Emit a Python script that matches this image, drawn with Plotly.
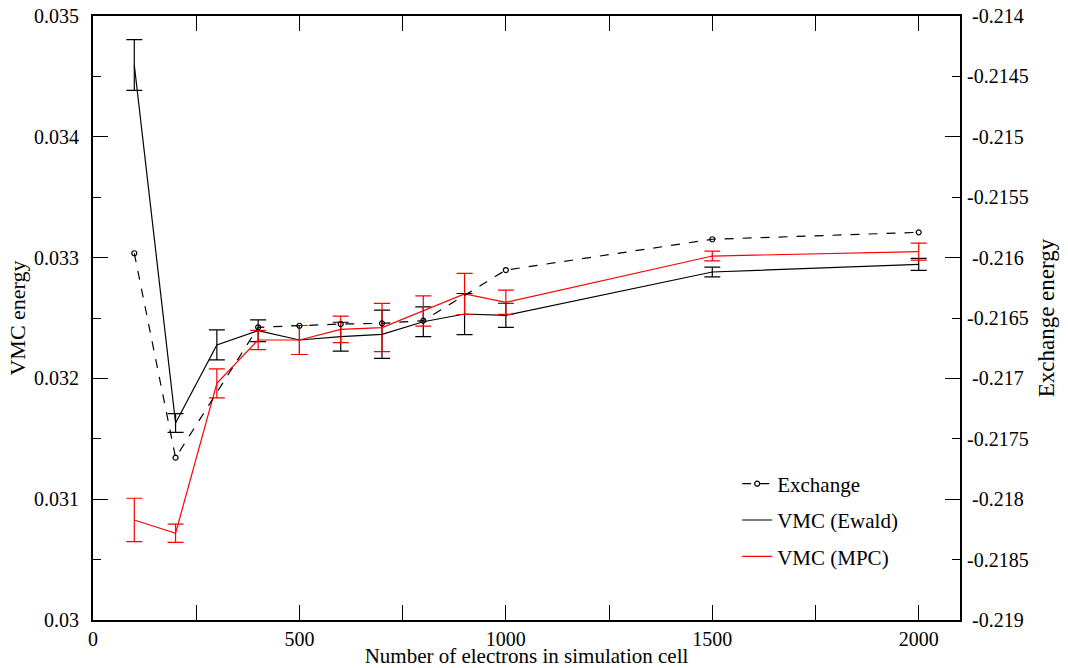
import plotly.graph_objects as go

# ---- data ----
n_vmc = [100, 200, 300, 400, 500, 600, 700, 800, 900, 1000, 1500, 2000]
ewald = [0.034594, 0.031631, 0.032277, 0.032395, 0.032318, 0.032345, 0.032365,
         0.032469, 0.032533, 0.032522, 0.032881, 0.032944]
ewald_err = [0.00021, 0.000078, 0.000124, 0.00009, 0.00012, 0.00012, 0.0002,
             0.000123, 0.00017, 0.0001, 0.00004, 0.00005]
mpc = [0.030828, 0.030718, 0.031959, 0.032318, 0.032318, 0.032406, 0.032421,
       0.032558, 0.032699, 0.032630, 0.033013, 0.033049]
mpc_err = [0.00018, 0.000075, 0.00012, 0.00008, 0.00012, 0.00011, 0.0002,
           0.000125, 0.00017, 0.0001, 0.00004, 0.00007]

n_exch = [100, 200, 400, 500, 600, 700, 800, 1000, 1500, 2000]
exchange = [-0.215964, -0.217656, -0.216577, -0.216564, -0.216550, -0.216544,
            -0.216522, -0.216103, -0.215848, -0.215791]

x_tick_vals = [0, 500, 1000, 1500, 2000]
x_tick_text = ["0", "500", "1000", "1500", "2000"]
left_tick_vals = [0.030, 0.031, 0.032, 0.033, 0.034, 0.035]
left_tick_text = ["0.03", "0.031", "0.032", "0.033", "0.034", "0.035"]
right_tick_vals = [-0.219, -0.2185, -0.218, -0.2175, -0.217, -0.2165, -0.216,
                   -0.2155, -0.215, -0.2145, -0.214]
right_tick_text = ["-0.219", "-0.2185", "-0.218", "-0.2175", "-0.217", "-0.2165",
                   "-0.216", "-0.2155", "-0.215", "-0.2145", "-0.214"]

FONT = "Liberation Serif, Times New Roman, Times, serif"
fig = go.Figure()

fig.add_trace(go.Scatter(
    x=n_exch, y=exchange, yaxis="y2", name="Exchange", mode="lines+markers",
    line=dict(color="black", width=1.2, dash="dash"),
    marker=dict(symbol="circle-open", size=5, color="black", line=dict(width=1.2)),
    legendgroup="a", legendrank=1))
fig.add_trace(go.Scatter(
    x=n_vmc, y=ewald, name="VMC (Ewald)", mode="lines",
    line=dict(color="black", width=1.2),
    error_y=dict(type="data", array=ewald_err, visible=True, color="black",
                 thickness=1.2, width=8),
    legendgroup="b", legendrank=2))
fig.add_trace(go.Scatter(
    x=n_vmc, y=mpc, name="VMC (MPC)", mode="lines",
    line=dict(color="red", width=1.2),
    error_y=dict(type="data", array=mpc_err, visible=True, color="red",
                 thickness=1.2, width=8),
    legendgroup="c", legendrank=3))

half_vals = right_tick_vals[1::2]
half_text = right_tick_text[1::2]
whole_vals = right_tick_vals[0::2]
whole_text = right_tick_text[0::2]
fig.add_trace(go.Scatter(x=[None], y=[None], yaxis="y3", showlegend=False,
                         hoverinfo="skip"))

tickfont = dict(family=FONT, size=20, color="black")
fig.update_layout(
    width=1068, height=668,
    margin=dict(l=93, r=108, t=16, b=48, autoexpand=False),
    plot_bgcolor="white", paper_bgcolor="white",
    font=dict(family=FONT, size=20, color="black"),
    showlegend=True,
    legend=dict(x=0.743, y=0.259, xanchor="left", yanchor="top",
                bgcolor="rgba(0,0,0,0)", font=dict(family=FONT, size=21),
                traceorder="grouped", tracegroupgap=6, itemwidth=30),
    xaxis=dict(range=[0, 2100], tickvals=x_tick_vals, ticktext=x_tick_text,
               ticks="inside", ticklen=15, tickwidth=1, tickcolor="black",
               showline=True, linecolor="black", linewidth=2, mirror="allticks",
               showgrid=False, zeroline=False, tickfont=tickfont, automargin=False,
               ticklabeloverflow="allow",
               minor=dict(dtick=250, tick0=0, ticks="inside", ticklen=8,
                          tickcolor="black", showgrid=False),
               title=dict(text="Number of electrons in simulation cell",
                          font=dict(family=FONT, size=21), standoff=1)),
    yaxis=dict(range=[0.030, 0.035], tickvals=left_tick_vals, ticktext=left_tick_text,
               ticks="inside", ticklen=15, tickcolor="black",
               showline=True, linecolor="black", linewidth=2,
               showgrid=False, zeroline=False, tickfont=tickfont, automargin=False,
               ticklabelstandoff=8, ticklabeloverflow="allow",
               minor=dict(dtick=0.0005, tick0=0.03, ticks="inside", ticklen=8,
                          tickcolor="black", showgrid=False),
               title=dict(text="VMC energy", font=dict(family=FONT, size=22),
                          standoff=2)),
    yaxis2=dict(range=[-0.219, -0.214], overlaying="y", side="right",
                tickvals=whole_vals, ticktext=whole_text,
                ticks="inside", ticklen=15, tickcolor="black",
                showline=True, linecolor="black", linewidth=2,
                showgrid=False, zeroline=False, tickfont=tickfont, automargin=False,
                ticklabelstandoff=6, ticklabeloverflow="allow",
                title=dict(text="Exchange energy", font=dict(family=FONT, size=23),
                           standoff=15)),
    yaxis3=dict(range=[-0.219, -0.214], overlaying="y", side="right",
                tickvals=half_vals, ticktext=half_text,
                ticks="inside", ticklen=8, tickcolor="black",
                showline=False, showgrid=False, zeroline=False, tickfont=tickfont,
                automargin=False, ticklabelstandoff=6, ticklabeloverflow="allow"),
)

fig.write_html("out.html", config={"displayModeBar": False},
               post_script="document.body.style.margin='0';")
